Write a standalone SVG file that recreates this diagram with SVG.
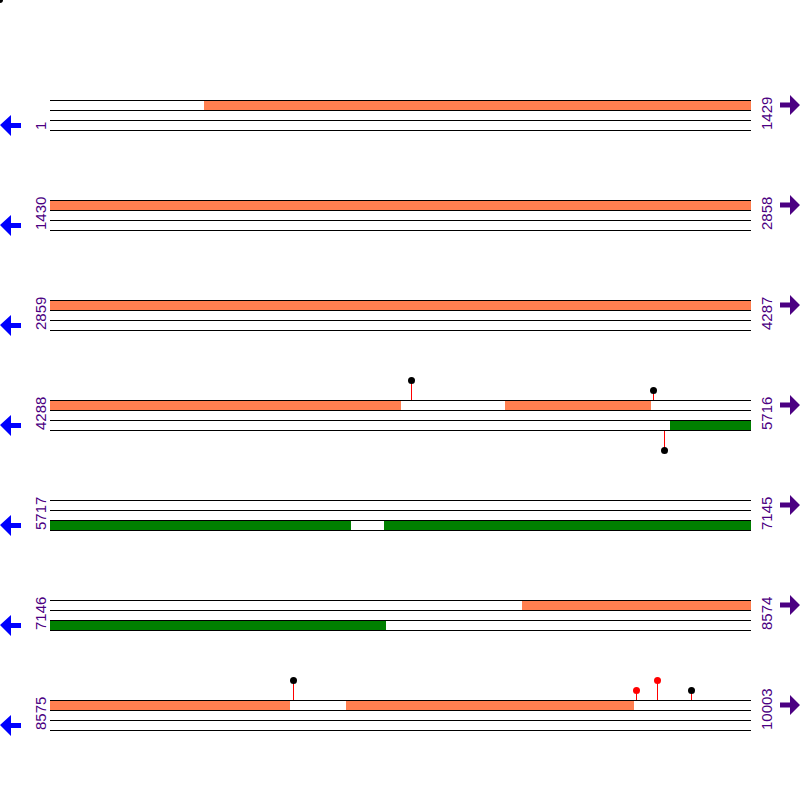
<svg xmlns="http://www.w3.org/2000/svg" width="800" height="800" viewBox="0 0 800 800">
<style>
.bg{fill:#fff}
.ln{stroke:#000;stroke-width:1;fill:none}
.co{fill:#FF7F50}
.gr{fill:#008000}
.lb{font-family:"Liberation Sans",Arial,sans-serif;font-size:15px;fill:#4B0082}
.la{fill:#0000FF}
.ra{fill:#4B0082}
.st{stroke:#FF0000;stroke-width:1}
.dk{fill:#000}
.rd{fill:#FF0000}
</style>
<defs>
<g id="tracks">
<line class="ln" x1="50" y1="100.5" x2="751" y2="100.5"/>
<line class="ln" x1="50" y1="110.5" x2="751" y2="110.5"/>
<line class="ln" x1="50" y1="120.5" x2="751" y2="120.5"/>
<line class="ln" x1="50" y1="130.5" x2="751" y2="130.5"/>
</g>
<path id="larrow" d="M0,125 L11,115 L11,123 L21,123 L21,128 L11,128 L11,136 Z"/>
<path id="rarrow" d="M800,105 L790,95 L790,102.5 L780,102.5 L780,107.5 L790,107.5 L790,115 Z"/>
</defs>
<rect class="bg" x="0" y="0" width="800" height="800"/>
<circle class="dk" cx="0" cy="0" r="3"/>

<g id="row1">
<rect class="co" x="204" y="100" width="547" height="10"/>
<use href="#tracks"/>
<use href="#larrow" class="la"/>
<use href="#rarrow" class="ra"/>
<text class="lb" transform="translate(46,130) rotate(-90)">1</text>
<text class="lb" transform="translate(772,130) rotate(-90)">1429</text>
</g>

<g id="row2" transform="translate(0,100)">
<rect class="co" x="50" y="100" width="701" height="10"/>
<use href="#tracks"/>
<use href="#larrow" class="la"/>
<use href="#rarrow" class="ra"/>
<text class="lb" transform="translate(46,130) rotate(-90)">1430</text>
<text class="lb" transform="translate(772,130) rotate(-90)">2858</text>
</g>

<g id="row3" transform="translate(0,200)">
<rect class="co" x="50" y="100" width="701" height="10"/>
<use href="#tracks"/>
<use href="#larrow" class="la"/>
<use href="#rarrow" class="ra"/>
<text class="lb" transform="translate(46,130) rotate(-90)">2859</text>
<text class="lb" transform="translate(772,130) rotate(-90)">4287</text>
</g>

<g id="row4" transform="translate(0,300)">
<rect class="co" x="50" y="100" width="351" height="10"/>
<rect class="co" x="505" y="100" width="146" height="10"/>
<rect class="gr" x="670" y="120" width="81" height="10"/>
<use href="#tracks"/>
<use href="#larrow" class="la"/>
<use href="#rarrow" class="ra"/>
<text class="lb" transform="translate(46,130) rotate(-90)">4288</text>
<text class="lb" transform="translate(772,130) rotate(-90)">5716</text>
</g>

<g id="row5" transform="translate(0,400)">
<rect class="gr" x="50" y="120" width="301" height="10"/>
<rect class="gr" x="384" y="120" width="367" height="10"/>
<use href="#tracks"/>
<use href="#larrow" class="la"/>
<use href="#rarrow" class="ra"/>
<text class="lb" transform="translate(46,130) rotate(-90)">5717</text>
<text class="lb" transform="translate(772,130) rotate(-90)">7145</text>
</g>

<g id="row6" transform="translate(0,500)">
<rect class="co" x="522" y="100" width="229" height="10"/>
<rect class="gr" x="50" y="120" width="336" height="10"/>
<use href="#tracks"/>
<use href="#larrow" class="la"/>
<use href="#rarrow" class="ra"/>
<text class="lb" transform="translate(46,130) rotate(-90)">7146</text>
<text class="lb" transform="translate(772,130) rotate(-90)">8574</text>
</g>

<g id="row7" transform="translate(0,600)">
<rect class="co" x="50" y="100" width="240" height="10"/>
<rect class="co" x="346" y="100" width="288" height="10"/>
<use href="#tracks"/>
<use href="#larrow" class="la"/>
<use href="#rarrow" class="ra"/>
<text class="lb" transform="translate(46,130) rotate(-90)">8575</text>
<text class="lb" transform="translate(772,130) rotate(-90)">10003</text>
</g>

<g id="markers">
<line class="st" x1="411.5" y1="380" x2="411.5" y2="400"/>
<circle class="dk" cx="411.5" cy="380.5" r="3.5"/>
<line class="st" x1="653.5" y1="390" x2="653.5" y2="400"/>
<circle class="dk" cx="653.5" cy="390.5" r="3.5"/>
<line class="st" x1="664.5" y1="431" x2="664.5" y2="450"/>
<circle class="dk" cx="664.5" cy="450.5" r="3.5"/>
<line class="st" x1="293.5" y1="680" x2="293.5" y2="700"/>
<circle class="dk" cx="293.5" cy="680.5" r="3.5"/>
<line class="st" x1="636.5" y1="690" x2="636.5" y2="700"/>
<circle class="rd" cx="636.5" cy="690.5" r="3.5"/>
<line class="st" x1="657.5" y1="680" x2="657.5" y2="700"/>
<circle class="rd" cx="657.5" cy="680.5" r="3.5"/>
<line class="st" x1="691.5" y1="690" x2="691.5" y2="700"/>
<circle class="dk" cx="691.5" cy="690.5" r="3.5"/>
</g>
</svg>
